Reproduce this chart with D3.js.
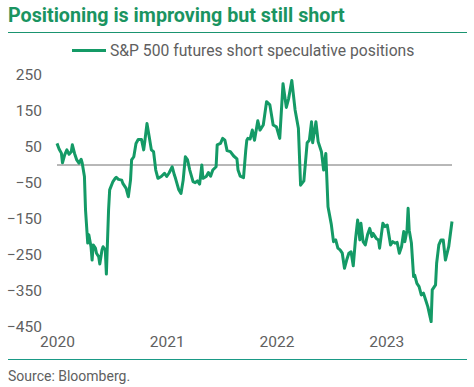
<!DOCTYPE html>
<meta charset="utf-8">
<body style="margin:0;background:#fff">
<script src="https://d3js.org/d3.v7.min.js"></script>
<script>
// chart text
var title = "Positioning is improving but still short";
var seriesName = "S&P 500 futures short speculative positions";
var source = "Source: Bloomberg.";

// tick labels
var yTicks = [250, 150, 50, -50, -150, -250, -350, -450];
var xTicks = [2020, 2021, 2022, 2023];

// dates as decimal years
var dates = [
  2020.00, 2020.02, 2020.04, 2020.05, 2020.07, 2020.09, 2020.11, 2020.13, 2020.14, 2020.16,
  2020.18, 2020.20, 2020.22, 2020.23, 2020.25, 2020.26, 2020.28, 2020.29, 2020.31, 2020.32,
  2020.33, 2020.35, 2020.36, 2020.38, 2020.39, 2020.41, 2020.42, 2020.44, 2020.45, 2020.47,
  2020.48, 2020.51, 2020.53, 2020.54, 2020.56, 2020.59, 2020.60, 2020.63, 2020.65, 2020.67,
  2020.68, 2020.70, 2020.72, 2020.74, 2020.77, 2020.79, 2020.80, 2020.82, 2020.84, 2020.86,
  2020.88, 2020.90, 2020.92, 2020.95, 2020.98, 2021.00, 2021.02, 2021.05, 2021.07, 2021.08,
  2021.11, 2021.13, 2021.15, 2021.17, 2021.19, 2021.21, 2021.24, 2021.26, 2021.28, 2021.30,
  2021.32, 2021.33, 2021.36, 2021.38, 2021.40, 2021.42, 2021.45, 2021.46, 2021.49, 2021.51,
  2021.53, 2021.55, 2021.58, 2021.61, 2021.64, 2021.65, 2021.67, 2021.70, 2021.72, 2021.73,
  2021.74, 2021.76, 2021.78, 2021.80, 2021.83, 2021.85, 2021.88, 2021.91, 2021.94, 2021.97,
  2022.00, 2022.03, 2022.06, 2022.09, 2022.11, 2022.14, 2022.17, 2022.20, 2022.22, 2022.25,
  2022.28, 2022.30, 2022.32, 2022.33, 2022.36, 2022.38, 2022.41, 2022.43, 2022.45, 2022.47,
  2022.50, 2022.52, 2022.54, 2022.56, 2022.58, 2022.60, 2022.62, 2022.64, 2022.66, 2022.68,
  2022.70, 2022.72, 2022.74, 2022.76, 2022.77, 2022.79, 2022.81, 2022.83, 2022.85, 2022.87,
  2022.88, 2022.91, 2022.93, 2022.94, 2022.97, 2022.99, 2023.01, 2023.04, 2023.06, 2023.08,
  2023.10, 2023.12, 2023.14, 2023.16, 2023.17, 2023.19, 2023.20, 2023.21, 2023.23, 2023.25,
  2023.26, 2023.28, 2023.30, 2023.32, 2023.34, 2023.36, 2023.38, 2023.41, 2023.42, 2023.45,
  2023.46, 2023.48, 2023.50, 2023.52, 2023.54, 2023.57, 2023.60
];
var positions = [
  60, 44, 33, 6, 28, 42, 30, 37, 56, 32,
  14, 5, 16, 5, -32, -125, -217, -194, -227, -264,
  -222, -231, -245, -255, -275, -236, -227, -236, -303, -125,
  -69, -46, -37, -34, -40, -42, -51, -65, -88, -42,
  14, 23, 60, 71, 71, 42, 65, 115, 79, 42,
  37, -14, -37, -32, -23, -32, -23, -5, -28, -37,
  -69, -79, -42, 23, 14, -14, -46, -49, -44, -53,
  0, -37, -32, -21, -31, -14, -5, 56, 60, 74,
  69, 40, 37, 25, 17, -14, -31, -35, 40, 69,
  74, 72, 97, 69, 123, 97, 111, 176, 167, 111,
  106, 74, 226, 160, 183, 235, 153, 102, -56, -44,
  62, 69, 120, 62, 120, 65, 37, -14, 32, -116,
  -165, -213, -208, -231, -236, -245, -287, -264, -245, -241,
  -280, -208, -153, -208, -162, -213, -222, -194, -176, -199,
  -190, -204, -208, -231, -162, -171, -167, -222, -213, -217,
  -215, -245, -227, -185, -213, -181, -120, -181, -217, -310,
  -306, -329, -338, -361, -356, -375, -394, -435, -347, -333,
  -273, -222, -208, -208, -264, -227, -157
];

var data = dates.map(function(d, i) { return {date: d, value: positions[i]}; });

var width = 474, height = 387;
var green = "#149a66";
var textGrey = "#606060";
var font = "Roboto, 'Noto Sans', sans-serif";

var svg = d3.select("body").append("svg")
    .attr("width", width)
    .attr("height", height)
    .style("font-family", font);

// title and rules
svg.append("text")
    .attr("x", 8).attr("y", 22)
    .attr("fill", "#1a9461")
    .style("font-size", "19.7px").style("font-weight", 700)
    .text(title);

svg.append("line")
    .attr("x1", 8).attr("x2", 467)
    .attr("y1", 32.5).attr("y2", 32.5)
    .attr("stroke", "#1a9470").attr("stroke-width", 1);

svg.append("line")
    .attr("x1", 8).attr("x2", 467)
    .attr("y1", 359.5).attr("y2", 359.5)
    .attr("stroke", "#1a9a86").attr("stroke-width", 1);

svg.append("text")
    .attr("x", 8).attr("y", 381)
    .attr("fill", textGrey)
    .style("font-size", "14px")
    .text(source);

// legend
svg.append("line")
    .attr("x1", 72).attr("x2", 106)
    .attr("y1", 50.5).attr("y2", 50.5)
    .attr("stroke", green).attr("stroke-width", 3);
svg.append("text")
    .attr("x", 110).attr("y", 56)
    .attr("fill", textGrey)
    .style("font-size", "15.7px")
    .text(seriesName);

// scales
var x = d3.scaleLinear()
    .domain([2020, 2023.6])
    .range([57, 452]);

var y = d3.scaleLinear()
    .domain([-450, 250])
    .range([327, 75]);

// y axis
var yAxis = svg.append("g")
    .attr("transform", "translate(44,0)")
    .call(d3.axisLeft(y).tickValues(yTicks).tickSize(0).tickPadding(2));
yAxis.select(".domain").remove();
yAxis.selectAll("text")
    .attr("fill", textGrey)
    .style("font-size", "15.5px")
    .style("font-family", font);

// x axis
var xAxis = svg.append("g")
    .attr("transform", "translate(0,336)")
    .call(d3.axisBottom(x).tickValues(xTicks).tickFormat(d3.format("d")).tickSize(0).tickPadding(0));
xAxis.select(".domain").remove();
xAxis.selectAll("text")
    .attr("fill", textGrey)
    .style("font-size", "15.5px")
    .style("font-family", font);

// zero line
svg.append("line")
    .attr("x1", x(2020)).attr("x2", x(2023.6))
    .attr("y1", y(0)).attr("y2", y(0))
    .attr("stroke", "#707070").attr("stroke-width", 1);

// series
svg.append("path")
    .datum(data)
    .attr("fill", "none")
    .attr("stroke", green)
    .attr("stroke-width", 3)
    .attr("stroke-linejoin", "round")
    .attr("d", d3.line()
        .x(function(d) { return x(d.date); })
        .y(function(d) { return y(d.value); }));
</script>
</body>
